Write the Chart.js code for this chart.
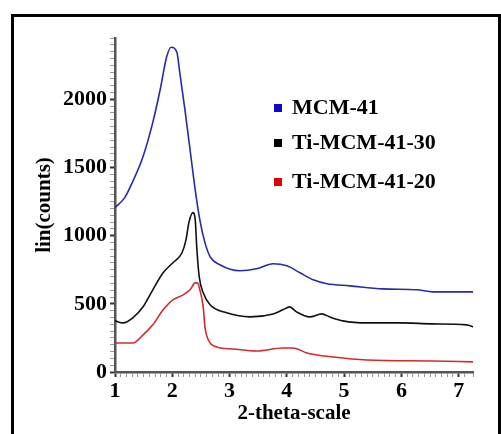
<!DOCTYPE html>
<html>
<head>
<meta charset="utf-8">
<script src="https://cdn.jsdelivr.net/npm/chart.js@4/dist/chart.umd.min.js"></script>
<style>
  body { margin: 0; overflow: hidden; background: #fff; }
  #wrap { position: relative; width: 501px; height: 434px; }
  #frame { position: absolute; left: 11px; top: 14px; width: 484px; height: 440px; border: 3px solid #000; }
  canvas { position: absolute; left: 0; top: 0; }
</style>
</head>
<body>
<div id="wrap">
  <div id="frame"></div>
  <canvas id="xrd" width="501" height="434"></canvas>
</div>
<script>
// series
const seriesNames = ['MCM-41', 'Ti-MCM-41-30', 'Ti-MCM-41-20'];
const seriesColors = ['#2a2aa8', '#111111', '#d42a2a'];
const legendColors = ['#0a0ac8', '#000000', '#e00000'];

const thetaMCM = [1.0, 1.17, 1.31, 1.49, 1.66, 1.79, 1.9, 1.98, 2.08, 2.13, 2.22, 2.31, 2.4, 2.48, 2.57, 2.66, 2.83, 3.18, 3.47, 3.76, 4.0, 4.23, 4.46, 4.7, 5.1, 5.68, 6.27, 6.55, 7.25];
const countsMCM = [1206, 1279, 1397, 1581, 1831, 2074, 2309, 2382, 2346, 2199, 1926, 1632, 1338, 1118, 949, 846, 787, 743, 757, 794, 779, 728, 676, 647, 632, 610, 603, 588, 588];

const thetaTi30 = [1.0, 1.14, 1.31, 1.49, 1.66, 1.84, 2.01, 2.17, 2.24, 2.29, 2.36, 2.4, 2.43, 2.47, 2.54, 2.66, 2.95, 3.36, 3.76, 3.93, 4.05, 4.17, 4.4, 4.61, 4.75, 4.98, 5.4, 5.97, 6.55, 7.14, 7.25];
const countsTi30 = [375, 360, 397, 478, 603, 728, 801, 875, 971, 1096, 1169, 1118, 897, 699, 581, 493, 434, 404, 426, 456, 478, 441, 404, 426, 404, 375, 360, 360, 353, 346, 331];

const thetaTi20 = [1.0, 1.31, 1.49, 1.66, 1.84, 2.01, 2.19, 2.31, 2.4, 2.44, 2.48, 2.54, 2.57, 2.63, 2.78, 3.06, 3.47, 3.93, 4.11, 4.35, 4.81, 5.4, 6.55, 7.25];
const countsTi20 = [213, 213, 272, 346, 456, 529, 566, 603, 654, 654, 603, 478, 331, 235, 184, 169, 154, 176, 176, 140, 110, 88, 81, 74];

const xMin = 1, xMax = 7.25;
const yMin = 0, yMax = 2450;

function pts(xs, ys) {
  return xs.map((x, i) => ({ x: x, y: ys[i] }));
}

const serif = 'Liberation Serif';

const legendPlugin = {
  id: 'insideLegend',
  afterDraw(chart) {
    const ctx = chart.ctx;
    ctx.save();
    ctx.font = 'bold 22px "' + serif + '"';
    ctx.textBaseline = 'middle';
    const rows = [108, 143, 182];
    chart.data.datasets.forEach((ds, i) => {
      ctx.fillStyle = legendColors[i];
      ctx.fillRect(274, rows[i] - 4, 8, 8);
      ctx.fillStyle = '#000';
      ctx.fillText(ds.label, 292, rows[i]);
    });
    ctx.restore();
  }
};

new Chart(document.getElementById('xrd'), {
  type: 'line',
  data: {
    datasets: [
      { label: seriesNames[0], data: pts(thetaMCM, countsMCM), borderColor: seriesColors[0] },
      { label: seriesNames[1], data: pts(thetaTi30, countsTi30), borderColor: seriesColors[1] },
      { label: seriesNames[2], data: pts(thetaTi20, countsTi20), borderColor: seriesColors[2] }
    ]
  },
  options: {
    responsive: false,
    animation: false,
    layout: { padding: { left: 10, top: 38, right: 28, bottom: 0 } },
    elements: {
      point: { radius: 0 },
      line: { borderWidth: 1.6, cubicInterpolationMode: 'monotone' }
    },
    plugins: {
      legend: { display: false },
      tooltip: { enabled: false }
    },
    scales: {
      x: {
        type: 'linear',
        min: xMin,
        max: xMax,
        afterFit(scale) { scale.height = 62; },
        border: { color: '#555', width: 2.5 },
        grid: {
          drawOnChartArea: false,
          tickLength: 5,
          tickColor: c => Math.abs(c.tick.value - Math.round(c.tick.value)) < 1e-6 ? '#333' : '#999',
          tickWidth: c => Math.abs(c.tick.value - Math.round(c.tick.value)) < 1e-6 ? 2 : 1
        },
        ticks: {
          stepSize: 0.1,
          autoSkip: false,
          maxRotation: 0,
          padding: 1,
          color: '#000',
          font: { family: serif, size: 22, weight: 'bold' },
          callback: v => Math.abs(v - Math.round(v)) < 1e-6 ? Math.round(v) : ''
        },
        title: {
          display: true,
          text: '2-theta-scale',
          color: '#000',
          padding: { top: 0, bottom: 8 },
          font: { family: serif, size: 21, weight: 'bold' }
        }
      },
      y: {
        min: yMin,
        max: yMax,
        afterFit(scale) { scale.width = 105; },
        border: { color: '#555', width: 2.5 },
        grid: {
          drawOnChartArea: false,
          tickLength: 5,
          tickColor: c => c.tick.value % 500 === 0 ? '#333' : '#999',
          tickWidth: c => c.tick.value % 500 === 0 ? 2 : 1
        },
        ticks: {
          stepSize: 50,
          autoSkip: false,
          padding: 3,
          color: '#000',
          font: { family: serif, size: 22, weight: 'bold' },
          callback: v => v % 500 === 0 ? v : ''
        },
        title: {
          display: true,
          text: 'lin(counts)',
          color: '#000',
          padding: { top: 22, bottom: 0 },
          font: { family: serif, size: 21, weight: 'bold' }
        }
      }
    }
  },
  plugins: [legendPlugin]
});
</script>
</body>
</html>
